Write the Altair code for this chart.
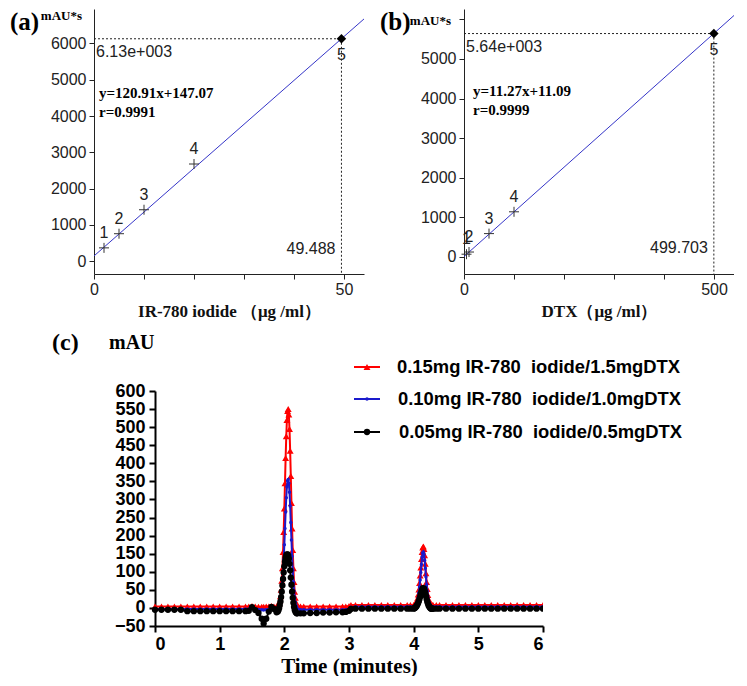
import altair as alt
import pandas as pd

# ---------------- data: panel (a) ----------------
A_CONC = [2, 5, 10, 20, 49.488]
A_AREA = [370, 760, 1420, 2680, 6130]
A_NUM = ["1", "2", "3", "4", "5"]
A_FIT_X = [0, 54]
A_FIT_Y = [147, 6676]

# ---------------- data: panel (b) ----------------
B_CONC = [5, 10, 50, 100, 499.703]
B_AREA = [70, 125, 590, 1140, 5640]
B_NUM = ["1", "2", "3", "4", "5"]
B_FIT_X = [0, 540]
B_FIT_Y = [11, 6097]

# ---------------- data: panel (c) chromatogram ----------------
T = [0.0, 0.1, 0.2, 0.3, 0.4, 0.5, 0.6, 0.7, 0.8, 0.9, 1.0, 1.1, 1.2, 1.3, 1.4,
     1.45, 1.5, 1.55, 1.6, 1.65, 1.68, 1.72, 1.76, 1.8, 1.84, 1.88,
     1.90, 1.91, 1.92, 1.93, 1.94, 1.95, 1.96, 1.97, 1.98, 1.99,
     2.00, 2.01, 2.02, 2.03, 2.04, 2.05, 2.06, 2.07, 2.08, 2.09,
     2.10, 2.11, 2.12, 2.13, 2.14, 2.15, 2.16, 2.17, 2.18, 2.19, 2.20,
     2.25, 2.3, 2.4, 2.5, 2.6, 2.7, 2.8, 2.9, 2.95, 3.0, 3.03,
     3.1, 3.2, 3.3, 3.4, 3.5, 3.6, 3.7, 3.8, 3.9, 3.95,
     4.00, 4.01, 4.02, 4.03, 4.04, 4.05, 4.06, 4.07, 4.08, 4.09,
     4.10, 4.11, 4.12, 4.13, 4.14, 4.15, 4.16, 4.17, 4.18, 4.19,
     4.20, 4.21, 4.22, 4.23, 4.24, 4.25, 4.26, 4.27, 4.28, 4.29, 4.30,
     4.35, 4.4, 4.5, 4.6, 4.7, 4.8, 4.9, 5.0, 5.1, 5.2, 5.3, 5.4, 5.5, 5.6, 5.7, 5.8, 5.9, 6.0]

RED = [4, 4, 4, 4, 4, 4, 4, 4, 4, 4, 4, 4, 4, 4, 4,
       4, 5, 4, 3, 3, 3, 4, 4, 5, 4, 4,
       5, 8, 12, 20, 32, 50, 75, 110, 155, 210,
       275, 345, 415, 475, 520, 545, 550, 535, 495, 435,
       365, 290, 220, 160, 110, 72, 45, 28, 16, 9, 5,
       4, 4, 4, 4, 4, 4, 4, 4, 4, 5, 8,
       8, 8, 8, 8, 8, 8, 8, 8, 8, 8,
       8, 9, 10, 12, 15, 20, 27, 37, 51, 69,
       90, 112, 135, 155, 167, 170, 163, 146, 122, 96,
       72, 52, 36, 25, 18, 13, 10, 9, 8, 8, 8,
       8, 8, 8, 8, 8, 8, 8, 8, 8, 8, 8, 8, 8, 8, 8, 8, 8, 8]

BLUE = [-3, -3, -3, -3, -3, -3, -3, -3, -3, -3, -3, -3, -3, -3, -3,
        -3, -2, -3, -4, -5, -6, -5, -4, -3, -3, -3,
        -2, 0, 4, 10, 18, 30, 46, 68, 97, 133,
        175, 220, 265, 305, 335, 352, 355, 345, 320, 282,
        236, 188, 143, 104, 72, 47, 29, 16, 7, 2, -2,
        -5, -5, -5, -5, -5, -5, -5, -5, -5, -3, 2,
        3, 3, 3, 3, 3, 3, 3, 3, 3, 3,
        3, 4, 5, 7, 10, 14, 20, 29, 42, 58,
        77, 98, 120, 140, 152, 155, 148, 132, 110, 86,
        64, 46, 32, 22, 15, 10, 7, 5, 4, 3, 3,
        3, 3, 3, 3, 3, 3, 3, 3, 3, 3, 3, 3, 3, 3, 3, 3, 3, 3]

BLACK = [-5, -5, -5, -5, -5, -9, -9, -9, -9, -9, -9, -9, -9, -9, -9,
         -8, 2, -6, -14, -30, -43, -30, -10, 3, -3, -12,
         -10, -6, 0, 8, 18, 30, 45, 62, 80, 98,
         115, 128, 138, 145, 148, 148, 145, 136, 122, 104,
         84, 64, 45, 28, 14, 3, -5, -10, -13, -15, -15,
         -15, -15, -14, -14, -13, -13, -12, -12, -11, -8, -3,
         -2, -2, -2, -2, -2, -2, -2, -2, -2, -2,
         -2, -1, 0, 2, 4, 7, 10, 14, 19, 25,
         31, 38, 45, 50, 54, 55, 53, 48, 41, 33,
         25, 18, 12, 7, 4, 1, -1, -2, -2, -2, -2,
         -2, -2, -2, -2, -2, -2, -2, -2, -2, -2, -2, -2, -2, -2, -2, -2, -2, -2]

SERIES = ["0.15mg IR-780\u00a0 iodide/1.5mgDTX",
          "0.10mg IR-780\u00a0 iodide/1.0mgDTX",
          "0.05mg IR-780\u00a0 iodide/0.5mgDTX"]

assert len(T) == len(RED) == len(BLUE) == len(BLACK)

ONE = pd.DataFrame({"k": [0]})
CROSS = "M-1,0H1M0,-1V1"


def txt(s, x, y, size, font="Liberation Serif", weight="bold", align="left",
        baseline="middle", color="black"):
    return alt.Chart(ONE).mark_text(
        font=font, fontSize=size, fontWeight=weight, align=align,
        baseline=baseline, color=color
    ).encode(x=alt.value(x), y=alt.value(y), text=alt.value(s))


def calib(conc, area, nums, fitx, fity, xdom, ydom, xvals, xmaj, yvals, ymaxlbl,
          xtitle, panel, eq, rr, mau_x, mau_y, eq_x, eq_y, ann_x_lbl, ann_y_lbl,
          lbl_y_px, w=270, h=265):
    pts = pd.DataFrame({"x": conc, "y": area, "n": nums,
                        "x0": [xdom[0]] * len(conc), "y0": [ydom[0]] * len(conc)})
    xs = alt.Scale(domain=xdom, nice=False, zero=False)
    ys = alt.Scale(domain=ydom, nice=False, zero=False)
    xax = alt.Axis(values=xvals, labelExpr=f"datum.value % {xmaj} == 0 ? datum.label : ''",
                   format="d", title=xtitle, titleFont="Liberation Serif",
                   titleFontWeight="bold", titleFontSize=17, titleColor="#111",
                   titlePadding=6, labelFont="Liberation Sans", labelFontSize=16,
                   labelColor="#222", domainColor="#222", tickColor="#222",
                   tickSize=5, labelPadding=2, grid=False, labelOverlap=False,
                   labelFlush=False)
    yax = alt.Axis(values=yvals,
                   labelExpr=f"(datum.value % 1000 == 0 && datum.value <= {ymaxlbl}) ? datum.label : ''",
                   format="d", title=None, labelFont="Liberation Sans", labelFontSize=16,
                   labelColor="#222", domainColor="#222", tickColor="#222",
                   tickSize=5, labelPadding=3, grid=False, labelOverlap=False)
    X = alt.X("x:Q", scale=xs, axis=xax)
    Y = alt.Y("y:Q", scale=ys, axis=yax)

    fit = alt.Chart(pd.DataFrame({"x": fitx, "y": fity})).mark_line(
        color="#3535c8", strokeWidth=1, clip=True).encode(X, Y)
    last = pts.tail(1)
    hguide = alt.Chart(last).mark_rule(strokeDash=[2, 2], color="#222", strokeWidth=1).encode(
        x=alt.X("x0:Q", scale=xs), x2="x:Q", y=alt.Y("y:Q", scale=ys))
    vguide = alt.Chart(last).mark_rule(strokeDash=[2, 2], color="#222", strokeWidth=1).encode(
        x=alt.X("x:Q", scale=xs), y=alt.Y("y:Q", scale=ys), y2="y0:Q")
    crosses = alt.Chart(pts.head(4)).mark_point(
        shape=CROSS, size=100, filled=False, color="#333", strokeWidth=1, opacity=1
    ).encode(X, Y)
    diamond = alt.Chart(last).mark_point(
        shape="diamond", size=90, filled=True, color="black", opacity=1).encode(X, Y)
    lbl_up = alt.Chart(pts.head(4)).mark_text(
        font="Liberation Sans", fontSize=16, color="#222", dy=-15).encode(X, Y, text="n:N")
    lbl_dn = alt.Chart(last).mark_text(
        font="Liberation Sans", fontSize=16, color="#222", dy=16).encode(X, Y, text="n:N")
    ann_y = alt.Chart(last).mark_text(
        font="Liberation Sans", fontSize=16, color="#222", align="left",
        baseline="top", dx=2, dy=5).encode(
        x=alt.X("x0:Q", scale=xs), y=alt.Y("y:Q", scale=ys), text=alt.value(ann_y_lbl))
    ann_x = alt.Chart(last).mark_text(
        font="Liberation Sans", fontSize=16, color="#222", align="right",
        baseline="middle", dx=-6).encode(
        x=alt.X("x:Q", scale=xs), y=alt.value(lbl_y_px), text=alt.value(ann_x_lbl))

    layers = [fit, hguide, vguide, crosses, diamond, lbl_up, lbl_dn, ann_y, ann_x,
              txt(panel, -84, 13, 25),
              txt("mAU*s", mau_x, mau_y, 13, align="right"),
              txt(eq, eq_x, eq_y, 15),
              txt(rr, eq_x, eq_y + 19, 15)]
    return alt.layer(*layers).properties(width=w, height=h)


a = calib(A_CONC, A_AREA, A_NUM, A_FIT_X, A_FIT_Y, [0, 54], [-350, 6950],
          list(range(0, 55, 5)), 25, list(range(0, 6951, 250)), 6000,
          "IR-780 iodide （μg /ml）", "(a)", "y=120.91x+147.07", "r=0.9991",
          -12, 7, 5, 84, "49.488", "6.13e+003", 240)

b = calib(B_CONC, B_AREA, B_NUM, B_FIT_X, B_FIT_Y, [0, 540], [-430, 6260],
          list(range(0, 540, 50)), 250, list(range(0, 6251, 250)), 5000,
          "DTX（μg /ml）", "(b)", "y=11.27x+11.09", "r=0.9999",
          -13, 12, 9, 82, "499.703", "5.64e+003", 239)

# ---------------- panel (c) ----------------
OFF = 61          # plot area starts 61px right of the panel origin
CW = 388          # plot width
cx = alt.Scale(domain=[0, 6], nice=False, zero=False, range=[OFF, OFF + CW])
cy = alt.Scale(domain=[-50, 600], nice=False, zero=False)
cxax = alt.Axis(values=[0, 1, 2, 3, 4, 5, 6], format="d", title="Time (minutes)",
                titleFont="Liberation Serif", titleFontWeight="bold", titleFontSize=21,
                titleColor="black", titlePadding=2, labelFont="Liberation Sans",
                labelFontWeight="bold", labelFontSize=18, labelColor="black",
                domainColor="black", domainWidth=2, tickColor="black", tickWidth=2,
                tickSize=6, labelPadding=3, grid=False, labelOverlap=False)
cyax = alt.Axis(values=list(range(-50, 601, 50)), format="d", title=None,
                labelFont="Liberation Sans", labelFontWeight="bold", labelFontSize=18,
                labelColor="black", domainColor="black", domainWidth=2,
                tickColor="black", tickWidth=2, tickSize=6, labelPadding=4,
                grid=False, labelOverlap=False, labelFlush=False, offset=-OFF)
CX = alt.X("t:Q", scale=cx, axis=cxax)
CY = alt.Y("v:Q", scale=cy, axis=cyax)

styles = [(RED, "#ff0000", "triangle-up", 48),
          (BLUE, "#1a1acc", "circle", 12),
          (BLACK, "#000000", "circle", 40)]

c_layers = []
for vals, col, shp, sz in styles:
    df = pd.DataFrame({"t": T, "v": vals})
    c_layers.append(alt.Chart(df).mark_line(color=col, strokeWidth=2, clip=True).encode(CX, CY))
    c_layers.append(alt.Chart(df).mark_point(shape=shp, filled=True, color=col, size=sz,
                                             opacity=1, clip=True).encode(CX, CY))

leg_y = [-24, 8, 41]
leg_tx = [303, 304, 305]
for (vals, col, shp, sz), lab, ly, lx in zip(styles, SERIES, leg_y, leg_tx):
    c_layers.append(alt.Chart(ONE).mark_rule(color=col, strokeWidth=2).encode(
        x=alt.value(260), x2=alt.value(286), y=alt.value(ly)))
    c_layers.append(alt.Chart(ONE).mark_point(shape=shp, filled=True, color=col,
                                              size=sz, opacity=1).encode(
        x=alt.value(273), y=alt.value(ly)))
    c_layers.append(txt(lab, lx, ly, 18.4, font="Liberation Sans"))

c_layers.append(txt("(c)", -42, -48, 24))
c_layers.append(txt("mAU", 15, -48, 20))

c = alt.layer(*c_layers).properties(width=OFF + CW, height=235)

top = alt.hconcat(a, b, spacing=16)
chart = alt.vconcat(top, c, spacing=12).properties(
    padding={"left": 2, "top": 1, "right": 0, "bottom": 0},
    background="white"
).configure_view(strokeWidth=0)

chart.save("out.html", embed_options={"renderer": "svg", "actions": False})
